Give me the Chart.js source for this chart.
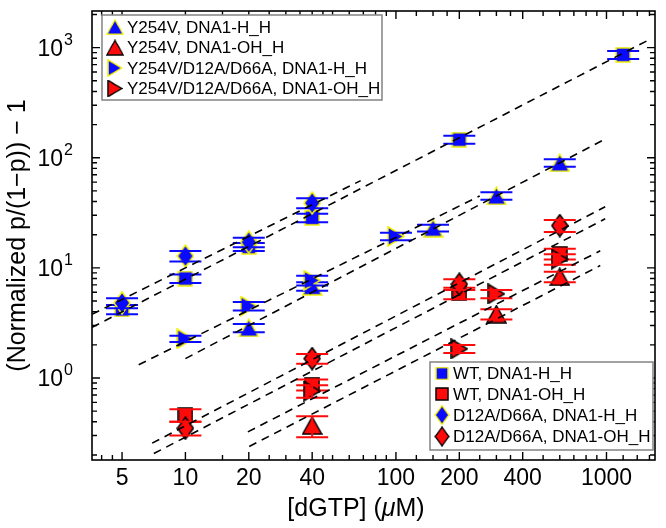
<!DOCTYPE html>
<html><head><meta charset="utf-8">
<script src="https://cdn.jsdelivr.net/npm/chart.js@4.4.1/dist/chart.umd.min.js"></script>
<style>html,body{margin:0;padding:0;background:#fff;}canvas{display:block;}</style>
</head><body>
<canvas id="c" width="666" height="528"></canvas>
<script>
// ---------------- DATA ----------------
const xMajorTicks = [5, 10, 20, 40, 100, 200, 400, 1000];
const xMinorTicks = [4, 4.5, 15, 25, 30, 35, 45, 50, 60, 70, 80, 90, 125, 150, 175, 250, 300, 350, 500, 600, 700, 800, 900, 1200, 1400, 1600];
const yMajorTicks = [1, 10, 100, 1000];
const yMinorTicks = [0.2, 0.3, 0.4, 0.5, 0.6, 0.7, 0.8, 0.9, 2, 3, 4, 5, 6, 7, 8, 9, 20, 30, 40, 50, 60, 70, 80, 90, 200, 300, 400, 500, 600, 700, 800, 900, 2000];

// Y254V, DNA1-H_H (blue up triangle)
const y254vHH_x = [20, 40, 150, 300, 600];
const y254vHH_y = [2.85, 6.8, 23, 45, 90];
const y254vHH_err = [0.25, 0.6, 1.6, 3.5, 7];
// Y254V, DNA1-OH_H (red up triangle)
const y254vOH_x = [40, 300, 600];
const y254vOH_y = [0.37, 3.8, 8.3];
const y254vOH_err = [0.08, 0.4, 0.9];
// Y254V/D12A/D66A, DNA1-H_H (blue right triangle)
const y254vDDHH_x = [10, 20, 40, 100];
const y254vDDHH_y = [2.27, 4.5, 7.7, 19.3];
const y254vDDHH_err = [0.15, 0.4, 0.8, 1.5];
// Y254V/D12A/D66A, DNA1-OH_H (red right triangle)
const y254vDDOH_x = [40, 200, 300, 600];
const y254vDDOH_y = [0.76, 1.84, 5.8, 12.0];
const y254vDDOH_err = [0.1, 0.15, 0.5, 1.3];
// WT, DNA1-H_H (blue square)
const wtHH_x = [5, 10, 20, 40, 200, 1200];
const wtHH_y = [4.2, 8.0, 15.5, 28.5, 146, 860];
const wtHH_err = [0.4, 0.7, 1.3, 2.5, 12, 70];
// WT, DNA1-OH_H (red square)
const wtOH_x = [10, 40, 200, 600];
const wtOH_y = [0.46, 0.87, 5.9, 13.4];
const wtOH_err = [0.06, 0.1, 0.7, 1.5];
// D12A/D66A, DNA1-H_H (blue diamond)
const ddHH_x = [5, 10, 20, 40];
const ddHH_y = [4.8, 12.8, 17.1, 38.8];
const ddHH_err = [0.5, 1.4, 1.7, 4];
// D12A/D66A, DNA1-OH_H (red diamond)
const ddOH_x = [10, 40, 200, 600];
const ddOH_y = [0.35, 1.5, 7.1, 24.2];
const ddOH_err = [0.05, 0.15, 0.8, 3];

// Fit lines: start and end points [x, y]
const fitWtHH = [[3.6, 2.88], [1633, 1208]];
const fitDdHH = [[3.6, 3.78], [68, 62]];
const fitY254vHH = [[10, 1.5], [1000, 150]];
const fitY254vDDHH = [[6.0, 1.32], [250, 45]];
const fitDdOH = [[6.95, 0.256], [986, 35.9]];
const fitWtOH = [[7.08, 0.206], [986, 27.9]];
const fitY254vDDOH = [[19.8, 0.324], [934, 14.3]];
const fitY254vOH = [[20.1, 0.239], [934, 10.5]];

// ---------------- STYLE ----------------
const FONT = '"Liberation Sans", Arial, Helvetica, sans-serif';
const BLUE = '#0a0aff', RED = '#ff0a0a', YEL = '#f2f200';

function marker(shape, fill, stroke, w, h) {
  const c = document.createElement('canvas');
  c.width = w; c.height = h;
  const g = c.getContext('2d');
  g.beginPath();
  const m = 1;
  if (shape === 'square') g.rect(m, m, w - 2 * m, h - 2 * m);
  else if (shape === 'tri') { g.moveTo(w / 2, m); g.lineTo(w - m, h - m); g.lineTo(m, h - m); g.closePath(); }
  else if (shape === 'right') { g.moveTo(m, m); g.lineTo(w - m, h / 2); g.lineTo(m, h - m); g.closePath(); }
  else if (shape === 'diamond') { g.moveTo(w / 2, m); g.lineTo(w - m, h / 2); g.lineTo(w / 2, h - m); g.lineTo(m, h / 2); g.closePath(); }
  g.fillStyle = fill; g.fill();
  g.lineWidth = 1.5; g.strokeStyle = stroke; g.lineJoin = 'miter'; g.stroke();
  return c;
}
const mk = {
  sqB: marker('square', BLUE, YEL, 16, 16), sqR: marker('square', RED, '#000', 16, 16),
  triB: marker('tri', BLUE, YEL, 21, 19), triR: marker('tri', RED, '#000', 21, 19),
  rtB: marker('right', BLUE, YEL, 18, 21), rtR: marker('right', RED, '#000', 18, 21),
  dmB: marker('diamond', BLUE, YEL, 18, 24), dmR: marker('diamond', RED, '#000', 18, 24)
};

function pts(xs, ys) { return xs.map((x, i) => ({ x: x, y: ys[i] })); }
function scat(label, xs, ys, errs, style, errColor, order) {
  return { type: 'scatter', label: label, data: pts(xs, ys), errs: errs, errColor: errColor,
    pointStyle: style, pointRadius: 10, order: order, showLine: false };
}
function fit(p) {
  return { type: 'line', label: '', data: p.map(q => ({ x: q[0], y: q[1] })), borderColor: '#000',
    borderWidth: 1.6, borderDash: [8, 6], pointRadius: 0, fill: false, order: 0, isFit: true };
}

const dsY254vHH = scat('Y254V, DNA1-H_H', y254vHH_x, y254vHH_y, y254vHH_err, mk.triB, BLUE, 3);
const dsY254vOH = scat('Y254V, DNA1-OH_H', y254vOH_x, y254vOH_y, y254vOH_err, mk.triR, RED, 3);
const dsY254vDDHH = scat('Y254V/D12A/D66A, DNA1-H_H', y254vDDHH_x, y254vDDHH_y, y254vDDHH_err, mk.rtB, BLUE, 2);
const dsY254vDDOH = scat('Y254V/D12A/D66A, DNA1-OH_H', y254vDDOH_x, y254vDDOH_y, y254vDDOH_err, mk.rtR, RED, 2);
const dsWtHH = scat('WT, DNA1-H_H', wtHH_x, wtHH_y, wtHH_err, mk.sqB, BLUE, 4);
const dsWtOH = scat('WT, DNA1-OH_H', wtOH_x, wtOH_y, wtOH_err, mk.sqR, RED, 4);
const dsDdHH = scat('D12A/D66A, DNA1-H_H', ddHH_x, ddHH_y, ddHH_err, mk.dmB, BLUE, 1);
const dsDdOH = scat('D12A/D66A, DNA1-OH_H', ddOH_x, ddOH_y, ddOH_err, mk.dmR, RED, 1);

const legendTop = [dsY254vHH, dsY254vOH, dsY254vDDHH, dsY254vDDOH];
const legendBottom = [dsWtHH, dsWtOH, dsDdHH, dsDdOH];

const decor = {
  id: 'decor',
  afterDatasetDraw(chart, args) {
    const ds = chart.data.datasets[args.index];
    if (!ds.errs) return;
    const ctx = chart.ctx, xs = chart.scales.x, ys = chart.scales.y;
    ctx.save();
    ctx.strokeStyle = ds.errColor; ctx.lineWidth = 2;
    ds.data.forEach((p, i) => {
      const e = ds.errs[i];
      const px = xs.getPixelForValue(p.x);
      const y1 = ys.getPixelForValue(p.y - e), y2 = ys.getPixelForValue(p.y + e);
      ctx.beginPath();
      ctx.moveTo(px, y1); ctx.lineTo(px, y2);
      ctx.moveTo(px - 16, y1); ctx.lineTo(px + 16, y1);
      ctx.moveTo(px - 16, y2); ctx.lineTo(px + 16, y2);
      ctx.stroke();
    });
    ctx.restore();
  },
  afterDraw(chart) {
    const ctx = chart.ctx, a = chart.chartArea, xs = chart.scales.x, ys = chart.scales.y;
    ctx.save();
    // frame
    ctx.strokeStyle = '#000'; ctx.lineWidth = 1.6;
    ctx.strokeRect(a.left, a.top, a.right - a.left, a.bottom - a.top);
    // ticks (inward on all four sides)
    ctx.lineWidth = 1.4;
    ctx.beginPath();
    const xt = (v, len) => { const p = xs.getPixelForValue(v); if (p < a.left || p > a.right) return;
      ctx.moveTo(p, a.bottom); ctx.lineTo(p, a.bottom - len); ctx.moveTo(p, a.top); ctx.lineTo(p, a.top + len); };
    const yt = (v, len) => { const p = ys.getPixelForValue(v); if (p < a.top || p > a.bottom) return;
      ctx.moveTo(a.left, p); ctx.lineTo(a.left + len, p); ctx.moveTo(a.right, p); ctx.lineTo(a.right - len, p); };
    xMajorTicks.forEach(v => xt(v, 8)); xMinorTicks.forEach(v => xt(v, 5));
    yMajorTicks.forEach(v => yt(v, 8)); yMinorTicks.forEach(v => yt(v, 5));
    ctx.stroke();
    // y tick labels 10^n
    ctx.fillStyle = '#000';
    yMajorTicks.forEach(v => {
      const p = ys.getPixelForValue(v);
      const e = Math.round(Math.log10(v));
      ctx.font = '23px ' + FONT; ctx.textAlign = 'right'; ctx.textBaseline = 'alphabetic';
      ctx.fillText('10', 63, p + 8);
      ctx.font = '16px ' + FONT; ctx.textAlign = 'left';
      ctx.fillText(String(e), 64, p - 3);
    });
    // y title
    ctx.save();
    ctx.translate(18, (a.top + a.bottom) / 2);
    ctx.rotate(-Math.PI / 2);
    ctx.font = '25px ' + FONT; ctx.textAlign = 'center'; ctx.textBaseline = 'middle';
    ctx.fillText('(Normalized p/(1\u2212p)) \u2212 1', 0, 0);
    ctx.restore();
    // x title with italic mu
    const parts = [['[dGTP] (', ''], ['\u03bc', 'italic '], ['M)', '']];
    let tw = 0;
    parts.forEach(pp => { ctx.font = pp[1] + '25px ' + FONT; tw += ctx.measureText(pp[0]).width; });
    let cx = 356 - tw / 2;
    ctx.textAlign = 'left'; ctx.textBaseline = 'alphabetic';
    parts.forEach(pp => { ctx.font = pp[1] + '25px ' + FONT; ctx.fillText(pp[0], cx, 516); cx += ctx.measureText(pp[0]).width; });
    // legends
    const drawLegend = (list, box, mx, tx, rows) => {
      ctx.fillStyle = '#fff';
      ctx.fillRect(box[0], box[1], box[2] - box[0], box[3] - box[1]);
      ctx.strokeStyle = '#8a8a8a'; ctx.lineWidth = 1.6;
      ctx.strokeRect(box[0], box[1], box[2] - box[0], box[3] - box[1]);
      list.forEach((ds, i) => {
        const im = ds.pointStyle, w = im.width * 0.85, h = im.height * 0.85;
        ctx.drawImage(im, mx - w / 2, rows[i] - h / 2, w, h);
        ctx.fillStyle = '#000'; ctx.font = '17px ' + FONT;
        ctx.textAlign = 'left'; ctx.textBaseline = 'middle';
        ctx.fillText(ds.label, tx, rows[i] + 1);
      });
    };
    drawLegend(legendTop, [102, 15, 382, 100], 115, 127, [27, 47.5, 68, 88.5]);
    drawLegend(legendBottom, [430, 362, 653, 450], 442, 453, [373.5, 394, 415, 436.5]);
    ctx.restore();
  }
};

new Chart(document.getElementById('c'), {
  type: 'scatter',
  data: {
    datasets: [
      fit(fitWtHH), fit(fitDdHH), fit(fitY254vHH), fit(fitY254vDDHH),
      fit(fitDdOH), fit(fitWtOH), fit(fitY254vDDOH), fit(fitY254vOH),
      dsWtHH, dsWtOH, dsY254vHH, dsY254vOH, dsY254vDDHH, dsY254vDDOH, dsDdHH, dsDdOH
    ]
  },
  options: {
    responsive: false, animation: false, devicePixelRatio: 1, events: [],
    layout: { padding: { left: 0, right: 3, top: 2, bottom: 0 } },
    plugins: { legend: { display: false }, tooltip: { enabled: false }, title: { display: false } },
    scales: {
      x: {
        type: 'logarithmic', position: 'bottom', min: 3.6, max: 1700,
        grid: { display: false, drawTicks: false }, border: { display: false },
        afterBuildTicks: s => { s.ticks = xMajorTicks.map(v => ({ value: v })); },
        afterFit: s => { s.height = 68; },
        ticks: { font: { family: FONT, size: 23 }, color: '#000', padding: 5, autoSkip: false,
          maxRotation: 0, minRotation: 0, callback: v => String(v) }
      },
      y: {
        type: 'logarithmic', position: 'left', min: 0.18, max: 2150,
        grid: { display: false, drawTicks: false }, border: { display: false },
        afterFit: s => { s.width = 92; },
        ticks: { display: false }
      }
    }
  },
  plugins: [decor]
});
</script>
</body></html>
